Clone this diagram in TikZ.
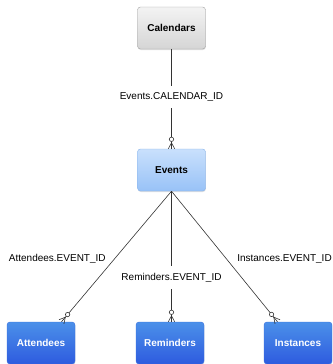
\documentclass[tikz,border=0pt]{standalone}
\usepackage{fontspec}
\setmainfont{Liberation Sans}
\usepackage{xcolor}
\usetikzlibrary{calc,shadows}

\definecolor{calTop}{HTML}{F3F3F3}
\definecolor{calBot}{HTML}{D5D5D5}
\definecolor{calLine}{HTML}{A2A2A2}
\definecolor{evTop}{HTML}{C9E0FC}
\definecolor{evBot}{HTML}{98C2F7}
\definecolor{evLine}{HTML}{86B2EA}
\definecolor{subTop}{HTML}{4B90E9}
\definecolor{subBot}{HTML}{2E5BDF}
\definecolor{subLine}{HTML}{3A6FDF}
\definecolor{wire}{HTML}{333333}

% zero-or-many end: circle and crow's foot at #2, line coming from #1
\newcommand{\zeromany}[2]{%
  \draw [wire, line width = 0.6pt] ($(#2)!6pt!(#1)$) -- ($(#2)!3.2pt!90:(#1)$);
  \draw [wire, line width = 0.6pt] ($(#2)!6pt!(#1)$) -- ($(#2)!3.2pt!-90:(#1)$);
  \draw [wire, line width = 0.6pt, fill = white] ($(#2)!9.5pt!(#1)$) circle (2.2pt);
}

\begin{document}
\begin{tikzpicture}[x = 1pt, y = -1pt,
  table/.style = {rounded corners = 3pt, minimum width = 68pt, minimum height = 42pt,
    font = \bfseries, drop shadow = {shadow xshift = 0.4pt, shadow yshift = -1pt, opacity = 0.25}},
  grey table/.style = {table, draw = calLine, top color = calTop, bottom color = calBot},
  light table/.style = {table, draw = evLine, top color = evTop, bottom color = evBot},
  blue table/.style = {table, draw = subLine, top color = subTop, bottom color = subBot, text = white},
  link/.style = {draw = wire, line width = 0.6pt},
  key/.style = {font = \fontsize{10}{12}\selectfont}]
\useasboundingbox (0,0) rectangle (332,364);

\node [grey table] (calendars) at (171.5,28) {Calendars};
\node [light table] (events) at (171.5,170) {Events};
\node [blue table] (attendees) at (41,343) {Attendees};
\node [blue table] (reminders) at (170,343) {Reminders};
\node [blue table] (instances) at (298,343) {Instances};
\coordinate (remtop) at (reminders.north -| events.south);

\draw [link] (calendars.south) -- (events.north)
  node [key, pos = 0.48, fill = white, inner ysep = 7pt] {Events.CALENDAR\_ID};
\draw [link] (events.south) -- (remtop)
  node [key, pos = 0.66, fill = white, inner ysep = 7pt] {Reminders.EVENT\_ID};
\draw [link] (events.south) -- (attendees.46)
  node [key, pos = 0.52, anchor = east, xshift = -5pt] {Attendees.EVENT\_ID};
\draw [link] (events.south) -- (instances.134)
  node [key, pos = 0.52, anchor = west, xshift = 7pt] {Instances.EVENT\_ID};

\zeromany{calendars.south}{events.north}
\zeromany{events.south}{remtop}
\zeromany{events.south}{attendees.46}
\zeromany{events.south}{instances.134}
\end{tikzpicture}
\end{document}
